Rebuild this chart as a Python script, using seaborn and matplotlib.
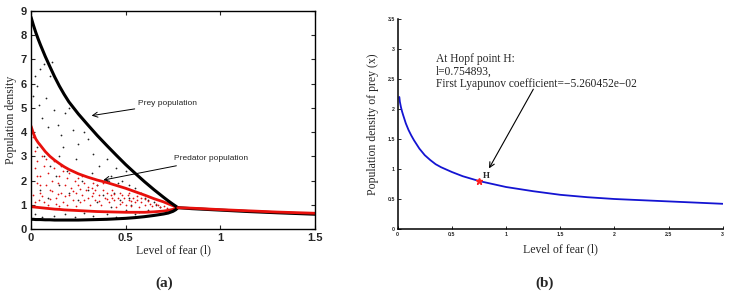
import numpy as np
import pandas as pd
import matplotlib
matplotlib.use("Agg")
import matplotlib.pyplot as plt
import seaborn as sns

# ---------------- data: panel (a) ----------------
l_osc = [0, 0.0125, 0.025, 0.0375, 0.05, 0.075, 0.1, 0.125, 0.15, 0.175, 0.2, 0.25, 0.3, 0.35, 0.4,
         0.45, 0.5, 0.55, 0.6, 0.65, 0.7, 0.725, 0.75, 0.765, 0.775]
prey_max = [8.75, 8.42, 8.12, 7.85, 7.6, 7.13, 6.7, 6.28, 5.9, 5.56, 5.25, 4.75, 4.3, 3.86, 3.45,
            3.05, 2.66, 2.3, 1.95, 1.62, 1.31, 1.16, 1.02, 0.94, 0.88]
prey_min = [0.40, 0.40, 0.39, 0.39, 0.39, 0.38, 0.38, 0.37, 0.37, 0.37, 0.37, 0.37, 0.38, 0.39, 0.40,
            0.42, 0.44, 0.47, 0.51, 0.56, 0.62, 0.66, 0.73, 0.80, 0.88]
pred_max = [4.25, 3.95, 3.72, 3.57, 3.45, 3.2, 3.0, 2.84, 2.7, 2.57, 2.46, 2.28, 2.14, 2.02, 1.92,
            1.80, 1.68, 1.54, 1.40, 1.25, 1.12, 1.04, 0.96, 0.91, 0.88]
pred_min = [0.92, 0.91, 0.90, 0.89, 0.88, 0.86, 0.84, 0.82, 0.81, 0.79, 0.78, 0.76, 0.74, 0.72, 0.71,
            0.70, 0.69, 0.69, 0.69, 0.71, 0.74, 0.77, 0.81, 0.85, 0.88]

l_eq = [0.775, 0.85, 1.0, 1.15, 1.3, 1.5]
prey_eq = [0.88, 0.84, 0.78, 0.72, 0.67, 0.61]
pred_eq = [0.88, 0.86, 0.80, 0.75, 0.70, 0.65]

prey_dots_l = [0.02, 0.03, 0.05, 0.04, 0.08, 0.1, 0.12, 0.06, 0.14, 0.18, 0.2, 0.16, 0.22, 0.25, 0.28,
               0.3, 0.24, 0.33, 0.36, 0.4, 0.42, 0.45, 0.48, 0.5, 0.52, 0.55, 0.58, 0.6, 0.62, 0.65,
               0.03, 0.07, 0.1, 0.13, 0.15, 0.05, 0.09, 0.2, 0.25, 0.3, 0.35, 0.38, 0.42, 0.47, 0.5,
               0.53, 0.57, 0.62, 0.68, 0.02, 0.06, 0.12, 0.18, 0.23, 0.28, 0.33, 0.4, 0.45, 0.55, 0.6,
               0.11, 0.07, 0.15, 0.27, 0.19, 0.4, 0.35, 0.44, 0.52, 0.01, 0.09, 0.17, 0.32, 0.46, 0.66]
prey_dots_y = [6.3, 5.9, 6.6, 5.1, 5.4, 6.3, 4.9, 4.6, 4.3, 4.8, 5.0, 3.9, 4.1, 3.5, 4.0,
               3.7, 2.9, 3.1, 2.6, 2.9, 2.2, 2.5, 2.0, 2.4, 1.8, 1.7, 1.5, 1.3, 1.2, 1.1,
               3.4, 3.0, 2.6, 2.2, 1.8, 1.6, 1.3, 1.5, 1.2, 1.6, 1.1, 1.4, 0.9, 1.2, 0.8,
               1.0, 0.7, 0.8, 0.9, 0.6, 0.5, 0.55, 0.6, 0.5, 0.65, 0.55, 0.6, 0.5, 0.6, 0.55,
               6.9, 6.8, 3.0, 2.0, 2.4, 2.0, 1.8, 1.5, 1.3, 5.5, 4.2, 3.4, 2.3, 1.9, 1.0]

pred_dots_l = [0.01, 0.02, 0.03, 0.02, 0.04, 0.05, 0.06, 0.07, 0.03, 0.05, 0.01, 0.08, 0.09, 0.1, 0.11,
               0.12, 0.13, 0.14, 0.15, 0.16, 0.17, 0.18, 0.19, 0.2, 0.21, 0.22, 0.23, 0.24, 0.25, 0.26,
               0.27, 0.28, 0.29, 0.3, 0.31, 0.32, 0.33, 0.34, 0.35, 0.36, 0.37, 0.38, 0.39, 0.4, 0.41,
               0.42, 0.43, 0.44, 0.45, 0.46, 0.47, 0.48, 0.49, 0.5, 0.51, 0.52, 0.53, 0.54, 0.55, 0.56,
               0.57, 0.58, 0.6, 0.62, 0.64, 0.66, 0.68, 0.7, 0.72, 0.04, 0.07, 0.1, 0.13, 0.16, 0.2,
               0.25, 0.08, 0.12, 0.02, 0.06, 0.09, 0.15, 0.19, 0.24, 0.28, 0.32, 0.36, 0.4, 0.44, 0.48,
               0.52, 0.56, 0.6, 0.3, 0.34, 0.38, 0.22, 0.26, 0.18, 0.14, 0.11, 0.05, 0.03, 0.17, 0.27,
               0.33, 0.43, 0.47, 0.53, 0.58, 0.63, 0.67]
pred_dots_y = [3.8, 3.2, 2.8, 2.5, 3.5, 2.2, 3.0, 2.6, 1.9, 1.5, 1.4, 1.8, 2.3, 1.6, 2.0,
               2.5, 1.3, 1.9, 2.2, 1.5, 1.1, 1.8, 2.1, 1.4, 1.7, 1.2, 2.0, 1.5, 1.8, 1.1,
               1.4, 1.9, 1.6, 1.3, 1.0, 1.7, 1.5, 1.2, 1.8, 1.4, 1.0, 1.6, 1.3, 1.5, 1.1,
               1.4, 1.6, 1.2, 0.9, 1.3, 1.5, 1.1, 1.3, 1.0, 1.4, 1.2, 0.95, 1.3, 1.1, 1.2,
               0.9, 1.1, 1.0, 1.15, 0.95, 1.05, 0.9, 0.95, 0.85, 1.2, 1.1, 1.25, 1.05, 2.6, 2.3,
               2.1, 2.9, 2.8, 1.1, 1.35, 1.0, 0.95, 1.0, 0.95, 1.2, 1.35, 1.15, 1.25, 1.45, 1.4,
               1.5, 1.35, 1.25, 1.75, 1.6, 1.9, 1.55, 1.65, 1.35, 1.45, 1.55, 1.8, 2.2, 2.4, 2.2,
               1.9, 1.3, 1.05, 1.15, 1.3, 1.05, 1.0]

# ---------------- data: panel (b) ----------------
fear_b = [0.015, 0.02, 0.03, 0.04, 0.05, 0.075, 0.1, 0.125, 0.15, 0.2, 0.25, 0.3, 0.35, 0.4, 0.5,
          0.6, 0.75, 0.9, 1.0, 1.25, 1.5, 1.75, 2.0, 2.5, 3.0]
prey_b = [2.2, 2.12, 2.03, 1.96, 1.9, 1.76, 1.65, 1.56, 1.48, 1.34, 1.23, 1.15, 1.08, 1.03, 0.95,
          0.88, 0.80, 0.74, 0.70, 0.63, 0.57, 0.53, 0.50, 0.46, 0.42]
hopf_l = 0.754893
hopf_x = 0.80

# ---------------- style ----------------
sns.set_style("ticks")
plt.rcParams["font.family"] = ["Liberation Sans", "DejaVu Sans"]
serif = ["Liberation Serif", "DejaVu Serif"]

fig = plt.figure(figsize=(7.39, 2.95), dpi=100)
ax1 = fig.add_axes([31 / 739, 66 / 295, 284 / 739, 218 / 295])
ax2 = fig.add_axes([397.7 / 739, 66 / 295, 325 / 739, 210 / 295])

# ---- panel (a) ----
sns.scatterplot(x=prey_dots_l, y=prey_dots_y, ax=ax1, color="#222222", s=1.6, linewidth=0)
sns.scatterplot(x=pred_dots_l, y=pred_dots_y, ax=ax1, color="#e01010", s=1.6, linewidth=0)
red = "#e8100c"
for yy in (pred_max, pred_min):
    sns.lineplot(x=l_osc, y=yy, ax=ax1, color=red, lw=2.0, sort=False, estimator=None)
for yy in (prey_max, prey_min):
    sns.lineplot(x=l_osc, y=yy, ax=ax1, color="black", lw=2.2, sort=False, estimator=None)
sns.lineplot(x=l_eq, y=prey_eq, ax=ax1, color="black", lw=2.2, sort=False, estimator=None)
sns.lineplot(x=l_eq, y=pred_eq, ax=ax1, color=red, lw=2.0, sort=False, estimator=None)

ax1.set_xlim(0, 1.5)
ax1.set_ylim(0, 9)
ax1.set_xticks([0, 0.5, 1, 1.5])
ax1.set_xticklabels(["0", "0.5", "1", "1.5"])
ax1.set_yticks(range(10))
for s in ax1.spines.values():
    s.set_visible(True)
    s.set_linewidth(1.0)
    s.set_color("black")
ax1.tick_params(direction="in", length=3, width=0.8, top=True, right=True,
                labelsize=8, pad=3)
for lab in ax1.get_xticklabels() + ax1.get_yticklabels():
    lab.set_fontweight("bold")
ax1.set_xlabel("Level of fear (l)", family=serif, fontsize=8.5)
ax1.set_ylabel("Population density", family=serif, fontsize=8.5)
ax1.xaxis.set_label_coords(0.5, -0.068)
ax1.yaxis.set_label_coords(-0.05, 0.5)

arrow_kw = dict(arrowstyle="->", lw=0.7, color="black", mutation_scale=9, shrinkA=0, shrinkB=0)
ax1.annotate("Prey population", xy=(0.32, 4.68), xytext=(0.565, 5.17),
             fontsize=6, ha="left", va="center", arrowprops=arrow_kw)
ax1.annotate("Predator population", xy=(0.382, 2.02), xytext=(0.755, 2.89),
             fontsize=6, ha="left", va="center", arrowprops=arrow_kw)

# ---- panel (b) ----
sns.lineplot(x=fear_b, y=prey_b, ax=ax2, color="#1414d2", lw=1.3, sort=False, estimator=None)
ax2.plot([hopf_l], [hopf_x], marker="*", color="#ff2020", markersize=4.5, linestyle="none")
ax2.set_xlim(0, 3)
ax2.set_ylim(0, 3.5)
ax2.set_xticks([0, 0.5, 1, 1.5, 2, 2.5, 3])
ax2.set_xticklabels(["0", "0.5", "1", "1.5", "2", "2.5", "3"])
ax2.set_yticks([0, 0.5, 1, 1.5, 2, 2.5, 3, 3.5])
ax2.set_yticklabels(["0", "0.5", "1", "1.5", "2", "2.5", "3", "3.5"])
ax2.spines["top"].set_visible(False)
ax2.spines["right"].set_visible(False)
for k in ("left", "bottom"):
    ax2.spines[k].set_linewidth(1.1)
    ax2.spines[k].set_color("black")
ax2.tick_params(direction="in", length=2.5, width=0.7, labelsize=3.8, pad=2)
for lab in ax2.get_xticklabels() + ax2.get_yticklabels():
    lab.set_fontweight("bold")
ax2.set_xlabel("Level of fear (l)", family=serif, fontsize=8.5)
ax2.set_ylabel("Population density of prey (x)", family=serif, fontsize=8.5)
ax2.xaxis.set_label_coords(0.5, -0.07)
ax2.yaxis.set_label_coords(-0.058, 0.5)

ax2.text(0.351, 2.94,
         "At Hopf point H:\nl=0.754893,\nFirst Lyapunov coefficient=\u22125.260452e\u221202",
         family=serif, fontsize=8.3, ha="left", va="top", linespacing=1.1)
ax2.annotate("", xy=(0.843, 1.01), xytext=(1.252, 2.33),
             arrowprops=dict(arrowstyle="->", lw=0.8, color="black", mutation_scale=9,
                             shrinkA=0, shrinkB=0))
ax2.text(0.82, 0.89, "H", family=serif, fontsize=6.5, fontweight="bold", ha="center", va="center")

fig.text(164 / 739, 1 - 283 / 295, "(a)", family=serif, fontsize=11, fontweight="bold",
         ha="center", va="center")
fig.text(545 / 739, 1 - 283 / 295, "(b)", family=serif, fontsize=11, fontweight="bold",
         ha="center", va="center")

fig.savefig("out.png", dpi=100)
